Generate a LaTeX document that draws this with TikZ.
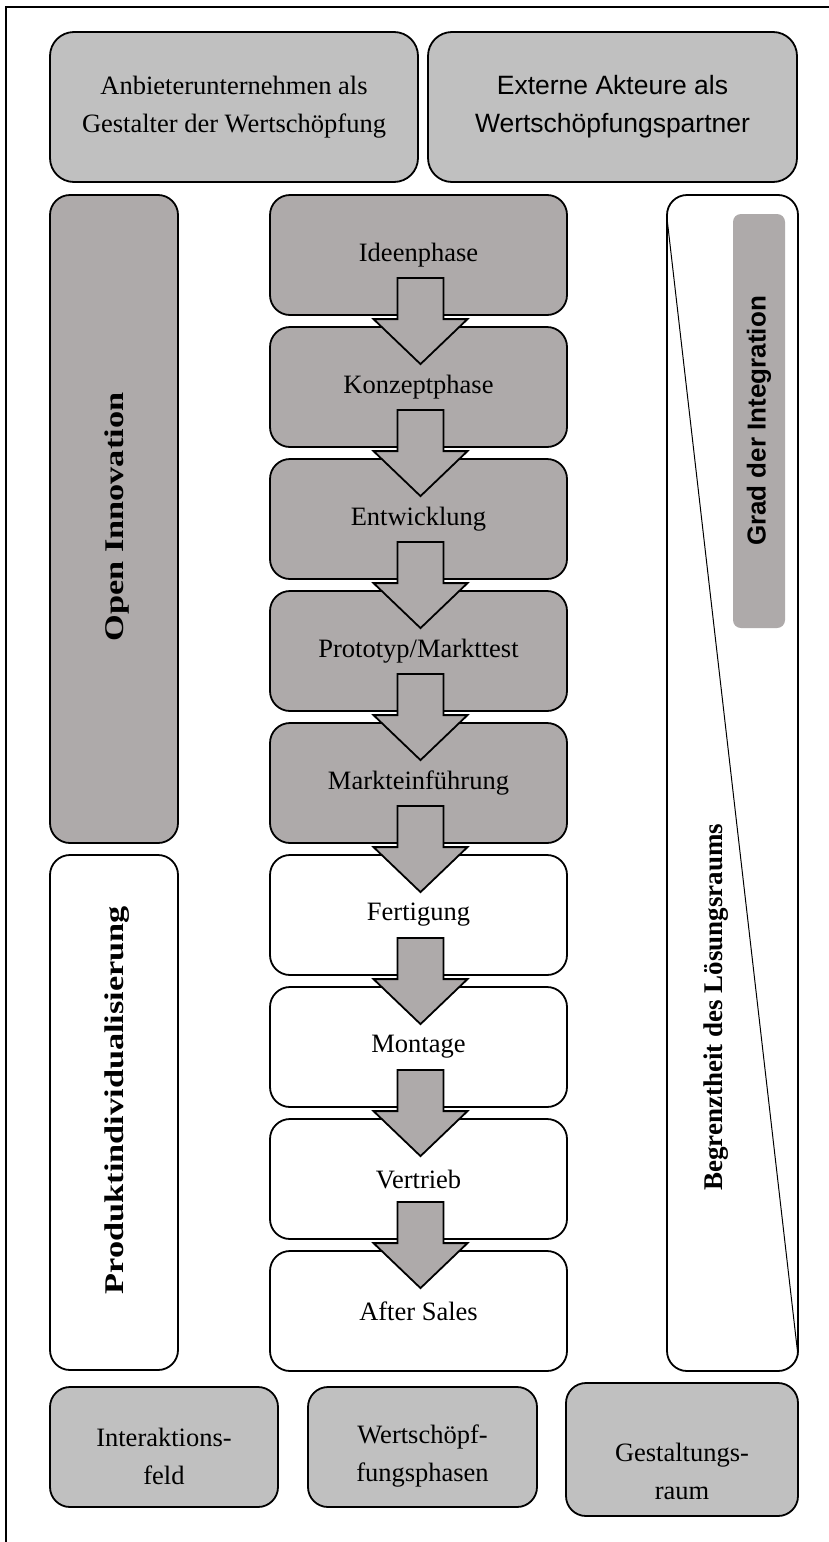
\documentclass[tikz,border=0pt]{standalone}
\usepackage{fontspec}
\setmainfont{Liberation Serif}
\setsansfont{Liberation Sans}
\newfontfamily\wideserif{Liberation Serif}[FakeStretch=1.27]
\usetikzlibrary{calc}
\definecolor{silver}{HTML}{C0C0C0}
\definecolor{phasegray}{HTML}{AEAAAA}

\newcommand{\phasearrow}[2]{%
  \coordinate (top) at ($(#1.south)+(2,-38)$);
  \coordinate (neck) at ($(#2.north)+(2,-7)$);
  \coordinate (tip) at ($(#2.north)+(2,38)$);
  \draw[arrowbody] ($(top)+(-23,0)$) -- ($(top)+(23,0)$) -- ($(neck)+(23,0)$)
    -- ($(neck)+(47,0)$) -- (tip) -- ($(neck)+(-47,0)$) -- ($(neck)+(-23,0)$) -- cycle;
}

\begin{document}
\begin{tikzpicture}[x=1pt,y=-1pt,
  box/.style={draw, line width=1.8pt, rounded corners=20pt, inner sep=0pt, align=center,
    font=\fontsize{26.5}{38}\selectfont},
  headbox/.style={box, fill=silver, rounded corners=24pt, minimum height=150pt},
  phasebox/.style={box, fill=phasegray, minimum width=297pt, minimum height=120pt},
  fieldbox/.style={box, rotate=90, minimum height=128pt},
  fieldtext/.style={rotate=90, font=\wideserif\bfseries\fontsize{27}{32}\selectfont},
  footbox/.style={box, fill=silver, minimum height=120pt},
  foottext/.style={align=center, font=\fontsize{26.5}{38}\selectfont},
  arrowbody/.style={draw, line width=1.8pt, fill=phasegray, line join=miter}]
\useasboundingbox (0,0) rectangle (829,1542);
\draw[line width=2pt] (6,1542) -- (6,7) -- (829,7);

\node[headbox, minimum width=368pt] (anbieter) at (234,107) {Anbieterunternehmen als\\Gestalter der Wertschöpfung};
\node[headbox, minimum width=369pt, font=\sffamily\fontsize{26.5}{38}\selectfont] (extern) at (612.5,107) {Externe Akteure als\\Wertschöpfungspartner};

\node[fieldbox, fill=phasegray, minimum width=648pt] (open) at (114,519) {};
\node[fieldtext] (opentext) at (117,517) {Open Innovation};
\node[fieldbox, fill=white, minimum width=515pt] (produkt) at (114,1112.5) {};
\node[fieldtext] (produkttext) at (117,1100) {Produktindividualisierung};

\node[phasebox] (ideen) at (418.5,255) {Ideenphase};
\node[phasebox] (konzept) at (418.5,387) {Konzeptphase};
\node[phasebox] (entw) at (418.5,519) {Entwicklung};
\node[phasebox] (proto) at (418.5,651) {Prototyp/Markttest};
\node[phasebox] (markt) at (418.5,783) {Markteinführung};
\node[phasebox, fill=white] (fert) at (418.5,915) {Fertigung};
\node[phasebox, fill=white] (mont) at (418.5,1047) {Montage};
\node[phasebox, fill=white] (vertr) at (418.5,1179) {Vertrieb};
\node[phasebox, fill=white] (after) at (418.5,1311) {After Sales};

\phasearrow{ideen}{konzept}
\phasearrow{konzept}{entw}
\phasearrow{entw}{proto}
\phasearrow{proto}{markt}
\phasearrow{markt}{fert}
\phasearrow{fert}{mont}
\phasearrow{mont}{vertr}
\phasearrow{vertr}{after}

\node[box, fill=white, minimum width=131pt, minimum height=1176pt] (raum) at (732.5,783) {};
\coordinate (diagtop) at ($(raum.north west)+(1,25)$);
\coordinate (diagbot) at ($(raum.south east)+(-1,-17)$);
\draw[line width=1pt] (diagtop) -- (diagbot);
\node[fill=phasegray, rounded corners=8pt, rotate=90, minimum width=414pt, minimum height=52pt, inner sep=0pt,
  font=\sffamily\bfseries\fontsize{26}{30}\selectfont] (grad) at (759,421) {Grad der Integration};
\node[rotate=90, font=\bfseries\fontsize{27}{32}\selectfont] (begrenzt) at (716,1007) {Begrenztheit des Lösungsraums};

\node[footbox, minimum width=228pt] (interaktion) at (164,1447) {};
\node[foottext] (interaktiontext) at (164,1456) {Interaktions-\\feld};
\node[footbox, minimum width=229pt] (wertphasen) at (422.5,1447) {};
\node[foottext] (wertphasentext) at (422.5,1456) {Wertschöpf-\\fungsphasen};
\node[footbox, minimum width=232pt, minimum height=133pt] (gestaltung) at (682,1449.5) {};
\node[foottext] (gestaltungtext) at (682,1471) {Gestaltungs-\\raum};
\end{tikzpicture}
\end{document}
